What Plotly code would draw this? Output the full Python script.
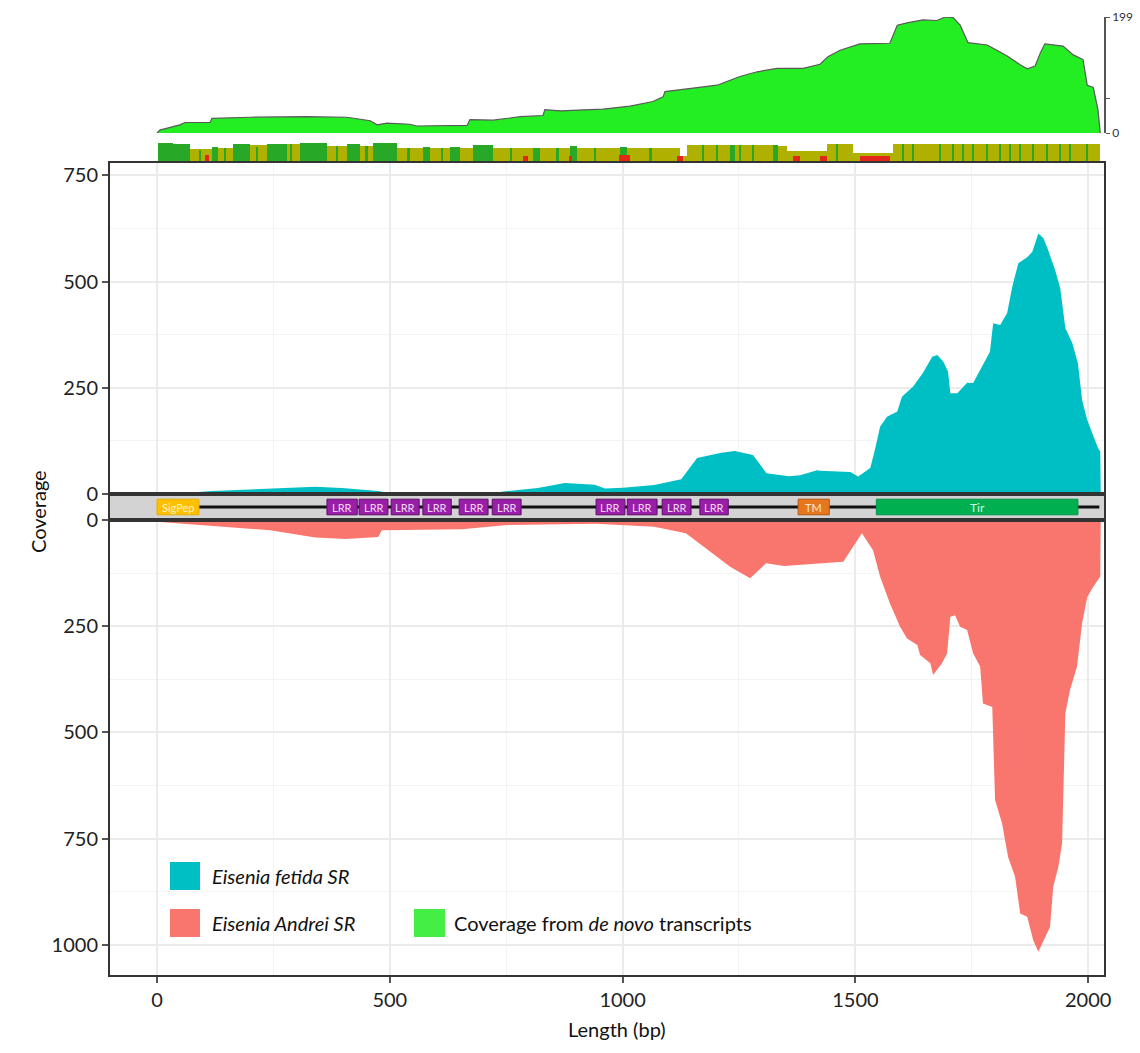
import plotly.graph_objects as go

# ---------------- data ----------------
# Short-read coverage along the transcript (bp position, read depth)
fetida_bp = [0, 43, 118, 243, 340, 397, 475, 503, 600, 725,
             752, 818, 876, 940, 962, 1001, 1068, 1126, 1160, 1212,
             1241, 1280, 1309, 1357, 1381, 1418, 1424, 1489, 1506, 1532,
             1542, 1553, 1568, 1590, 1600, 1624, 1645, 1665, 1676, 1689,
             1699, 1704, 1719, 1740, 1753, 1772, 1789, 1796, 1811, 1826,
             1837, 1850, 1869, 1880, 1893, 1904, 1914, 1929, 1940, 1951,
             1966, 1978, 1987, 1998, 2011, 2021, 2026, 2027]
fetida_cov = [0, 1, 7, 12, 17, 14, 7, 2, 2, 3,
              7, 14, 26, 22, 13, 15, 21, 35, 85, 97,
              101, 92, 49, 42, 44, 56, 55, 52, 41, 61,
              104, 158, 182, 194, 229, 253, 285, 323, 327, 311,
              288, 237, 237, 262, 261, 300, 335, 402, 398, 426,
              488, 543, 557, 570, 613, 602, 574, 527, 484, 390,
              355, 307, 221, 174, 139, 108, 100, 0]

andrei_bp = [0, 129, 243, 340, 406, 475, 483, 655, 752, 943,
             1068, 1136, 1184, 1231, 1274, 1308, 1347, 1424, 1474, 1495,
             1514, 1538, 1553, 1574, 1596, 1611, 1633, 1639, 1661, 1667,
             1686, 1697, 1704, 1714, 1725, 1740, 1753, 1768, 1774, 1794,
             1796, 1800, 1815, 1828, 1843, 1854, 1869, 1882, 1893, 1904,
             1918, 1925, 1936, 1944, 1951, 1961, 1976, 1987, 1998, 2011,
             2026, 2027]
andrei_cov = [4, 14, 24, 41, 45, 40, 24, 22, 12, 9,
              16, 31, 71, 110, 137, 102, 108, 102, 98, 63,
              31, 71, 133, 196, 251, 279, 294, 318, 337, 365,
              337, 314, 228, 224, 251, 259, 314, 345, 432, 440,
              526, 659, 714, 793, 840, 926, 934, 989, 1016, 989,
              958, 863, 816, 761, 455, 400, 345, 243, 181, 157,
              133, 0]

# Coverage from de novo assembled transcripts
denovo_bp = [0, 6, 49, 60, 114, 118, 200, 322, 408, 458,
             473, 494, 543, 558, 666, 672, 722, 780, 829, 833,
             866, 958, 1016, 1065, 1087, 1091, 1160, 1203, 1252, 1289,
             1332, 1388, 1424, 1441, 1467, 1510, 1574, 1590, 1611, 1645,
             1675, 1693, 1710, 1725, 1742, 1783, 1804, 1826, 1854, 1869,
             1886, 1897, 1907, 1946, 1968, 1989, 1998, 2011, 2021, 2026]
denovo_cov = [0, 5, 14, 18, 18, 25, 27, 28, 27, 21,
              14, 17, 15, 12, 13, 23, 22, 28, 30, 40,
              38, 41, 46, 54, 62, 71, 78, 82, 97, 105,
              111, 111, 118, 131, 142, 153, 154, 185, 189, 194,
              193, 199, 198, 185, 155, 151, 142, 132, 117, 110,
              115, 137, 153, 149, 134, 126, 82, 78, 40, 0]

# Per-position agreement strip: segments (g = agreeing, o = partial)
strip_start = [2, 34, 71, 118, 131, 163, 200, 236, 279, 307,
               365, 408, 436, 464, 516, 571, 586, 629, 651, 679,
               722, 808, 823, 887, 902, 995, 1010, 1123, 1138, 1231,
               1242, 1323, 1334, 1353, 1439, 1495, 1581]
strip_end = [34, 71, 118, 131, 163, 200, 236, 279, 307, 365,
             408, 436, 464, 516, 571, 586, 629, 651, 679, 722,
             808, 823, 887, 902, 995, 1010, 1123, 1138, 1231, 1242,
             1323, 1334, 1353, 1439, 1495, 1581, 2026]
strip_kind = ["g", "g", "o", "g", "o", "g", "o", "g", "o", "g",
              "o", "g", "o", "g", "o", "g", "o", "g", "o", "g",
              "o", "g", "o", "g", "o", "g", "o", "o", "o", "g",
              "o", "g", "o", "o", "o", "o", "o"]
strip_level = [1.0, 0.95, 0.65, 0.8, 0.7, 0.95, 0.9, 0.95, 0.95, 1.0,
               0.85, 0.95, 0.85, 1.0, 0.7, 0.8, 0.7, 0.8, 0.75, 0.9,
               0.7, 0.7, 0.75, 0.85, 0.75, 0.8, 0.75, 0.3, 0.9, 0.9,
               0.9, 0.9, 0.85, 0.55, 0.95, 0.45, 0.95]
stripe_bp = [22, 52, 92, 146, 215, 252, 288, 386, 450, 540,
             612, 700, 760, 860, 940, 1060, 1173, 1203, 1252, 1280,
             1460, 1602, 1624, 1682, 1710, 1731, 1753, 1783, 1811, 1832,
             1854, 1882, 1912, 1940, 1961, 1998]
stripe_level = [1.0, 0.95, 0.6, 0.7, 0.8, 0.9, 0.95, 0.85, 0.85, 0.7,
                0.7, 0.9, 0.7, 0.75, 0.75, 0.75, 0.9, 0.9, 0.9, 0.9,
                0.95, 0.95, 0.95, 0.95, 0.95, 0.95, 0.95, 0.95, 0.95, 0.95,
                0.95, 0.95, 0.95, 0.95, 0.95, 0.95]
mismatch_start = [103, 786, 884, 993, 1117, 1366, 1424, 1510]
mismatch_end = [112, 796, 892, 1016, 1130, 1381, 1439, 1574]
mismatch_level = [0.35, 0.3, 0.3, 0.35, 0.3, 0.3, 0.3, 0.3]

# Protein domains on the transcript (bp)
domain_names = ["SigPep", "LRR", "LRR", "LRR", "LRR", "LRR", "LRR",
                "LRR", "LRR", "LRR", "LRR", "TM", "Tir"]
domain_start = [0, 365, 434, 503, 571, 649, 720, 943, 1010, 1085, 1166, 1377, 1545]
domain_end = [90, 430, 496, 563, 632, 711, 782, 1005, 1074, 1147, 1227, 1444, 1978]
backbone = [90, 2024]

x_ticks = [0, 500, 1000, 1500, 2000]
x_minor = [250, 750, 1250, 1750]
up_ticks = [0, 250, 500, 750]
up_minor = [125, 375, 625]
low_ticks = [0, 250, 500, 750, 1000]
low_minor = [125, 375, 625, 875]

# ---------------- styling ----------------
W, H = 1140, 1053
FONT = "Lato"
CYAN = "#00BFC4"
SALMON = "#F8766D"
LIME = "#22EE22"
OLIVE = "#B0B000"
STRIP_GREEN = "#27A827"
MISMATCH = "#E3261A"
GRID = "#EBEBEB"
GRID_MINOR = "#F3F3F3"
FRAME = "#333333"

domain_fill = {"SigPep": "#FFC000", "LRR": "#9A1FA8", "TM": "#E6771F", "Tir": "#00B050"}
domain_edge = {"SigPep": "#E8AE00", "LRR": "#5E0C6A", "TM": "#B9550E", "Tir": "#00964A"}
domain_text = {"SigPep": "#FFF3C4", "LRR": "#F3D6F6", "TM": "#FFE3CC", "Tir": "#D8FBE4"}
domain_font = {"SigPep": 11, "LRR": 11, "TM": 11, "Tir": 12}


def py(p):
    return 1 - p / H


X_DOM = [110 / W, 1104 / W]
Y_LOW = [py(975), py(520)]
Y_BAR = [py(520), py(494)]
Y_UP = [py(494), py(163)]
Y_STRIP = [py(161), py(143)]
Y_TX = [py(133), py(17)]

fig = go.Figure()

# upper panel: E. fetida
fig.add_trace(go.Scatter(x=fetida_bp, y=fetida_cov, mode="lines", fill="tozeroy",
                         line=dict(width=0, color=CYAN), fillcolor=CYAN,
                         xaxis="x2", yaxis="y2", showlegend=False, hoverinfo="skip"))
# lower panel: E. andrei (downward)
fig.add_trace(go.Scatter(x=andrei_bp, y=andrei_cov, mode="lines", fill="tozeroy",
                         line=dict(width=0, color=SALMON), fillcolor=SALMON,
                         xaxis="x", yaxis="y", showlegend=False, hoverinfo="skip"))
# de novo transcript coverage track
fig.add_trace(go.Scatter(x=denovo_bp, y=denovo_cov, mode="lines", fill="tozeroy",
                         line=dict(width=1.2, color="#5A5A5A"), fillcolor=LIME,
                         xaxis="x4", yaxis="y4", showlegend=False, hoverinfo="skip"))

# agreement strip
strip_colors = [STRIP_GREEN if k == "g" else OLIVE for k in strip_kind]
fig.add_trace(go.Bar(x=[(s + e) / 2 for s, e in zip(strip_start, strip_end)],
                     width=[e - s for s, e in zip(strip_start, strip_end)],
                     y=strip_level, base=0, marker=dict(color=strip_colors, line=dict(width=0)),
                     xaxis="x5", yaxis="y5", showlegend=False, hoverinfo="skip"))
fig.add_trace(go.Bar(x=stripe_bp, width=[5] * len(stripe_bp), y=stripe_level, base=0,
                     marker=dict(color=STRIP_GREEN, line=dict(width=0)),
                     xaxis="x5", yaxis="y5", showlegend=False, hoverinfo="skip"))
fig.add_trace(go.Bar(x=[(s + e) / 2 for s, e in zip(mismatch_start, mismatch_end)],
                     width=[e - s for s, e in zip(mismatch_start, mismatch_end)],
                     y=mismatch_level, base=0, marker=dict(color=MISMATCH, line=dict(width=0)),
                     xaxis="x5", yaxis="y5", showlegend=False, hoverinfo="skip"))

# domain architecture backbone
fig.add_trace(go.Scatter(x=backbone, y=[0.5, 0.5], mode="lines",
                         line=dict(color="#111111", width=3),
                         xaxis="x3", yaxis="y3", showlegend=False, hoverinfo="skip"))

shapes = [dict(type="rect", xref="x3 domain", yref="y3 domain", x0=0, x1=1, y0=0, y1=1,
               fillcolor="#D3D3D3", line=dict(width=0), layer="below")]
annotations = []
for name, s, e in zip(domain_names, domain_start, domain_end):
    shapes.append(dict(type="rect", xref="x3", yref="y3", x0=s, x1=e, y0=0.2, y1=0.8,
                       fillcolor=domain_fill[name], line=dict(color=domain_edge[name], width=1),
                       layer="above"))
    annotations.append(dict(x=(s + e) / 2, y=0.5, xref="x3", yref="y3", text=name,
                            showarrow=False,
                            font=dict(family=FONT, size=domain_font[name], color=domain_text[name])))

# legend keys
legend_rows = [
    (170, 200, 862, 890, CYAN, 210, 876, "<i>Eisenia fetida SR</i>"),
    (170, 200, 909, 937, SALMON, 210, 923, "<i>Eisenia Andrei SR</i>"),
    (414, 445, 909, 937, "#44EE44", 452, 923, "Coverage from <i>de novo</i> transcripts"),
]
for x0, x1, y0, y1, col, tx, ty, label in legend_rows:
    shapes.append(dict(type="rect", xref="paper", yref="paper", x0=x0 / W, x1=x1 / W,
                       y0=py(y1), y1=py(y0), fillcolor=col, line=dict(width=0)))
    annotations.append(dict(x=tx / W, y=py(ty), xref="paper", yref="paper", text=label,
                            showarrow=False, xanchor="left", yanchor="middle",
                            font=dict(family=FONT, size=20, color="#111111")))

# axis titles
annotations.append(dict(x=24 / W, y=py(512), xref="paper", yref="paper", text="Coverage",
                        textangle=-90, showarrow=False, font=dict(family=FONT, size=20, color="#111111")))
annotations.append(dict(x=617 / W, y=py(1043), xref="paper", yref="paper", text="Length (bp)",
                        showarrow=False, font=dict(family=FONT, size=20, color="#111111")))

tickfont = dict(family=FONT, size=20, color="#222222")
grid_x = dict(showgrid=True, gridcolor=GRID, gridwidth=1.5,
              minor=dict(tickvals=x_minor, showgrid=True, gridcolor=GRID_MINOR, gridwidth=1, ticks=""))

fig.update_layout(
    width=W, height=H,
    margin=dict(l=0, r=0, t=0, b=0, autoexpand=False),
    paper_bgcolor="white", plot_bgcolor="white",
    barmode="overlay", bargap=0,
    shapes=shapes, annotations=annotations,
    xaxis=dict(domain=X_DOM, anchor="y", range=[-101, 2034], autorange=False, automargin=False,
               tickvals=x_ticks, ticks="outside", ticklen=6, tickcolor="#555555", tickwidth=1.5,
               tickfont=tickfont, showline=True, linecolor=FRAME, linewidth=2, mirror=True,
               zeroline=False, **grid_x),
    xaxis2=dict(domain=X_DOM, anchor="y2", matches="x", tickvals=x_ticks, showticklabels=False,
                ticks="", showline=True, linecolor=FRAME, linewidth=2, mirror=True,
                zeroline=False, automargin=False, **grid_x),
    xaxis3=dict(domain=X_DOM, anchor="y3", matches="x", showticklabels=False, ticks="",
                showgrid=False, zeroline=False, showline=True, linecolor=FRAME, linewidth=2,
                mirror=True, automargin=False),
    xaxis4=dict(domain=X_DOM, anchor="y4", matches="x", visible=False, automargin=False),
    xaxis5=dict(domain=X_DOM, anchor="y5", matches="x", visible=False, automargin=False),
    yaxis=dict(domain=Y_LOW, anchor="x", range=[1071, 0], autorange=False, automargin=False,
               tickvals=low_ticks, ticks="outside", ticklen=6, tickcolor="#555555", tickwidth=1.5,
               tickfont=tickfont, showline=True, linecolor=FRAME, linewidth=2, mirror=True,
               zeroline=False, showgrid=True, gridcolor=GRID, gridwidth=1.5,
               minor=dict(tickvals=low_minor, showgrid=True, gridcolor=GRID_MINOR, gridwidth=1, ticks="")),
    yaxis2=dict(domain=Y_UP, anchor="x2", range=[0, 779], autorange=False, automargin=False,
                tickvals=up_ticks, ticks="outside", ticklen=6, tickcolor="#555555", tickwidth=1.5,
                tickfont=tickfont, showline=True, linecolor=FRAME, linewidth=2, mirror=True,
                zeroline=False, showgrid=True, gridcolor=GRID, gridwidth=1.5,
                minor=dict(tickvals=up_minor, showgrid=True, gridcolor=GRID_MINOR, gridwidth=1, ticks="")),
    yaxis3=dict(domain=Y_BAR, anchor="x3", range=[0, 1], autorange=False, showticklabels=False,
                ticks="", showgrid=False, zeroline=False, showline=True, linecolor=FRAME,
                linewidth=2, mirror=True, automargin=False),
    yaxis4=dict(domain=Y_TX, anchor="x4", side="right", range=[0, 199], autorange=False,
                tickvals=[0, 60, 199], ticktext=["0", "", "199"], ticks="outside", ticklen=4,
                tickcolor="#555555", showline=True, linecolor="#555555", linewidth=1.5,
                showgrid=False, zeroline=False, automargin=False,
                tickfont=dict(family=FONT, size=12, color="#333333")),
    yaxis5=dict(domain=Y_STRIP, anchor="x5", range=[0, 1], autorange=False, visible=False,
                automargin=False),
)

fig.write_html("out.html")
